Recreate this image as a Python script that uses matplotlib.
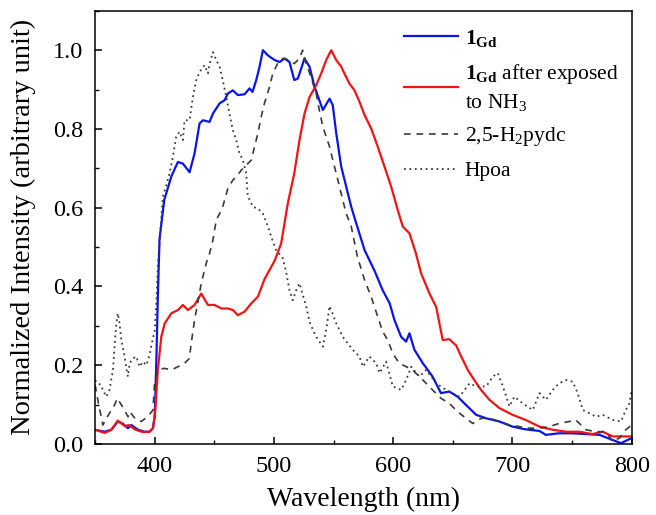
import matplotlib
matplotlib.use('Agg')
import matplotlib.pyplot as plt
from matplotlib.ticker import MultipleLocator

plt.rcParams['font.family'] = ['Liberation Serif', 'DejaVu Serif']
plt.rcParams['mathtext.fontset'] = 'custom'
plt.rcParams['mathtext.rm'] = 'Liberation Serif'
plt.rcParams['mathtext.it'] = 'Liberation Serif:italic'
plt.rcParams['mathtext.bf'] = 'Liberation Serif:bold'

# Emission spectra (normalized)
gd_x = [350, 358, 363.6, 369, 373, 377.5, 380.3, 386, 391.5, 395.7, 398.5, 400, 401.3, 402.6,
        404, 408, 414, 419.4, 423.6, 429.2, 433.4, 437.6, 440.4, 446, 448.8, 454.4, 458.6,
        461.3, 465.5, 469.7, 475.3, 479.5, 482, 485.1, 487.9, 490.7, 494.8, 500.5, 504.7,
        508.8, 513, 517, 520, 525.6, 529.8, 534, 541, 546.6, 549.3, 552.2, 556.4, 560.6,
        564.8, 569, 576, 584.3, 591.2, 597, 601, 606.6, 610.8, 613.6, 617.8, 624.8, 633,
        640, 647, 654, 661, 669.5, 678, 689, 700, 711, 722.6, 728, 739, 750.5, 761.7, 773,
        784, 791, 800]
gd_y = [0.036, 0.031, 0.036, 0.057, 0.052, 0.04, 0.048, 0.036, 0.031, 0.031, 0.04, 0.069,
        0.205, 0.374, 0.52, 0.62, 0.68, 0.716, 0.712, 0.69, 0.738, 0.814, 0.822, 0.818,
        0.839, 0.865, 0.873, 0.89, 0.898, 0.886, 0.888, 0.903, 0.894, 0.924, 0.958, 1.0,
        0.987, 0.975, 0.97, 0.979, 0.97, 0.924, 0.928, 0.979, 0.958, 0.907, 0.848, 0.877,
        0.86, 0.789, 0.704, 0.653, 0.602, 0.56, 0.492, 0.44, 0.39, 0.357, 0.315, 0.272,
        0.26, 0.281, 0.239, 0.205, 0.171, 0.129, 0.133, 0.12, 0.099, 0.074, 0.065, 0.057,
        0.044, 0.037, 0.033, 0.023, 0.027, 0.027, 0.025, 0.023, 0.01, 0.002, 0.015]

nh3_x = [350, 358, 363.6, 369, 375, 378, 384, 390, 395.7, 398.5, 400.5, 402.6, 405.5, 408.3,
         414, 419.4, 423.6, 427.8, 433.4, 439, 444.6, 450.2, 455.8, 461.3, 465.5, 469.7,
         475.3, 481, 486.5, 492, 496.3, 500.5, 506, 511.6, 517, 521.4, 525.6, 529.8, 535.4,
         539.6, 543.8, 548, 552.2, 556.4, 559, 563.3, 567.5, 571.7, 576, 581.5, 587, 592.7,
         598.3, 603.8, 608, 613.6, 619, 623.4, 630.4, 636, 641.5, 647, 652.8, 657, 662.5,
         668, 673.7, 680.7, 689, 700, 711, 722.6, 733.7, 745, 756, 767, 775.7, 784, 792.4,
         800]
nh3_y = [0.036, 0.028, 0.036, 0.059, 0.045, 0.048, 0.036, 0.03, 0.031, 0.04, 0.086, 0.188,
         0.272, 0.306, 0.332, 0.34, 0.353, 0.34, 0.353, 0.382, 0.353, 0.353, 0.344, 0.344,
         0.34, 0.327, 0.336, 0.357, 0.374, 0.418, 0.442, 0.465, 0.509, 0.611, 0.687, 0.772,
         0.839, 0.881, 0.911, 0.941, 0.975, 1.0, 0.975, 0.958, 0.941, 0.915, 0.898, 0.869,
         0.835, 0.801, 0.755, 0.704, 0.653, 0.594, 0.552, 0.535, 0.484, 0.433, 0.382,
         0.348, 0.264, 0.266, 0.25, 0.222, 0.188, 0.162, 0.137, 0.112, 0.091, 0.074, 0.061,
         0.044, 0.036, 0.031, 0.031, 0.025, 0.031, 0.019, 0.019, 0.019]

pydc_x = [350, 353, 356.5, 359.4, 366.3, 368.6, 374.7, 377.5, 379, 384.5, 388.7, 394, 398.5,
          400, 402.6, 408, 414, 419.4, 425, 429, 430.6, 433.4, 436, 439, 443.2, 446, 448.8,
          451.6, 454.4, 457, 461.3, 465.5, 469.7, 472.5, 476.7, 481, 483.7, 486.5, 489.3,
          492, 496.3, 499, 503, 507.4, 513, 517, 521.4, 524, 527, 531, 535.4, 538, 541,
          543.8, 546.6, 549.3, 552.2, 555, 557.7, 560.6, 564.8, 570, 576, 581.5, 587, 591.2,
          595.4, 599.6, 605, 611, 616, 622, 627.6, 633, 640, 647, 654, 661, 666.7, 673.7,
          680.7, 689, 697.5, 706, 714, 722.6, 731, 739, 747.7, 753, 761.7, 770, 778.5, 784,
          789.7, 795, 800]
pydc_y = [0.15, 0.1, 0.048, 0.065, 0.099, 0.116, 0.086, 0.069, 0.082, 0.061, 0.057, 0.069,
          0.086, 0.162, 0.188, 0.192, 0.188, 0.196, 0.205, 0.217, 0.255, 0.315, 0.357, 0.408,
          0.459, 0.484, 0.518, 0.569, 0.585, 0.602, 0.649, 0.67, 0.683, 0.695, 0.708, 0.721,
          0.755, 0.789, 0.831, 0.865, 0.907, 0.941, 0.966, 0.979, 0.975, 0.966, 0.979, 1.0,
          0.966, 0.932, 0.89, 0.848, 0.805, 0.78, 0.755, 0.721, 0.687, 0.653, 0.619, 0.585,
          0.552, 0.475, 0.416, 0.374, 0.323, 0.285, 0.264, 0.23, 0.205, 0.196, 0.188, 0.171,
          0.154, 0.137, 0.116, 0.103, 0.082, 0.065, 0.052, 0.065, 0.065, 0.057, 0.048, 0.044,
          0.04, 0.04, 0.044, 0.052, 0.057, 0.061, 0.036, 0.031, 0.031, 0.006, 0.015, 0.036,
          0.048]

hpoa_x = [350, 352, 355, 356.5, 359.4, 362, 365, 366.3, 367.8, 369, 370.5, 372, 374.7, 376,
          377.5, 379, 381.7, 384.5, 387.3, 390, 393, 395.7, 397, 400, 401.3, 402.6, 406.8,
          409.7, 412.4, 415.2, 418, 420.8, 423.6, 425, 429.2, 432, 434.8, 437.6, 441.8, 444.6,
          446, 448.8, 451.6, 454.4, 457, 460, 462.7, 465.5, 468.3, 471, 473.9, 476.7, 478,
          482.3, 486.5, 490.7, 495, 497.7, 502, 507, 510, 513, 515.7, 518.6, 521.4, 524, 527,
          529.8, 532.6, 535.4, 541, 543.8, 546.6, 549.3, 552.2, 557.7, 562, 566, 571.7, 574.5,
          580, 585.7, 588.5, 594, 599.6, 606.6, 610.8, 615, 622, 627.6, 636, 644.4, 655.5,
          664, 669.5, 678, 683.5, 687.6, 692, 697.5, 701.6, 708.6, 717, 722.6, 728, 733.7,
          739, 745, 750.5, 754.7, 759, 764.5, 770, 775.7, 784, 791, 795, 798, 800]
hpoa_y = [0.162, 0.154, 0.15, 0.137, 0.12, 0.137, 0.188, 0.247, 0.306, 0.332, 0.306, 0.264,
          0.222, 0.196, 0.171, 0.205, 0.217, 0.222, 0.196, 0.209, 0.2, 0.226, 0.247, 0.289,
          0.357, 0.45, 0.628, 0.657, 0.687, 0.729, 0.78, 0.793, 0.772, 0.822, 0.822, 0.881,
          0.924, 0.945, 0.962, 0.941, 0.966, 0.995, 0.975, 0.958, 0.924, 0.881, 0.839, 0.797,
          0.772, 0.738, 0.721, 0.687, 0.63, 0.602, 0.598, 0.585, 0.552, 0.526, 0.49, 0.475,
          0.44, 0.39, 0.365, 0.39, 0.408, 0.38, 0.35, 0.31, 0.29, 0.272, 0.247, 0.29, 0.35,
          0.33, 0.306, 0.272, 0.255, 0.239, 0.222, 0.196, 0.222, 0.205, 0.18, 0.209, 0.146,
          0.137, 0.162, 0.196, 0.171, 0.188, 0.154, 0.137, 0.12, 0.154, 0.146, 0.146, 0.171,
          0.18, 0.146, 0.095, 0.12, 0.103, 0.086, 0.129, 0.112, 0.137, 0.154, 0.162, 0.158,
          0.129, 0.086, 0.078, 0.069, 0.074, 0.061, 0.057, 0.086, 0.103, 0.137]

labels = [r'$\mathbf{1_{Gd}}$',
          r'$\mathbf{1_{Gd}}$ after exposed' + '\n' + r'to NH$_3$',
          r'2,5-H$_2$pydc',
          'Hpoa']

fig = plt.figure(figsize=(6.56, 5.15), dpi=100)
ax = fig.add_axes([0.145, 0.138, 0.818, 0.841])

gray = '#3a3a3a'
ax.plot(gd_x, gd_y, color='#0a14e6', lw=1.6, label=labels[0])
ax.plot(nh3_x, nh3_y, color='#f01414', lw=1.6, label=labels[1])
ax.plot(pydc_x, pydc_y, color=gray, lw=1.2, linestyle=(0, (4, 3.5)), label=labels[2])
ax.plot(hpoa_x, hpoa_y, color=gray, lw=1.3, linestyle=(0, (1, 2)), label=labels[3])

ax.set_xlim(350, 800)
ax.set_ylim(0, 1.1)
ax.xaxis.set_major_locator(MultipleLocator(100))
ax.xaxis.set_minor_locator(MultipleLocator(50))
ax.yaxis.set_major_locator(MultipleLocator(0.2))
ax.yaxis.set_minor_locator(MultipleLocator(0.1))
ax.yaxis.set_major_formatter(plt.FuncFormatter(lambda v, p: f'{v:.1f}'))
ax.tick_params(which='major', direction='in', length=5, width=1.1, labelsize=17.5)
ax.tick_params(axis='x', which='major', pad=9)
ax.tick_params(axis='y', which='major', pad=8.5)
ax.tick_params(which='minor', direction='in', length=3, width=1.0)
for s in ax.spines.values():
    s.set_linewidth(1.1)

ax.set_xlabel('Wavelength (nm)', fontsize=20, labelpad=7)
ax.set_ylabel('Normalized Intensity (arbitrary unit)', fontsize=20.5, labelpad=12)

leg = ax.legend(loc='upper left', bbox_to_anchor=(0.54, 1.005), frameon=False, fontsize=15.5,
                handlelength=2.5, handletextpad=0.3, labelspacing=0.6)
for t in leg.get_texts():
    t.set_linespacing(1.35)

plt.savefig('out.png', dpi=100)
